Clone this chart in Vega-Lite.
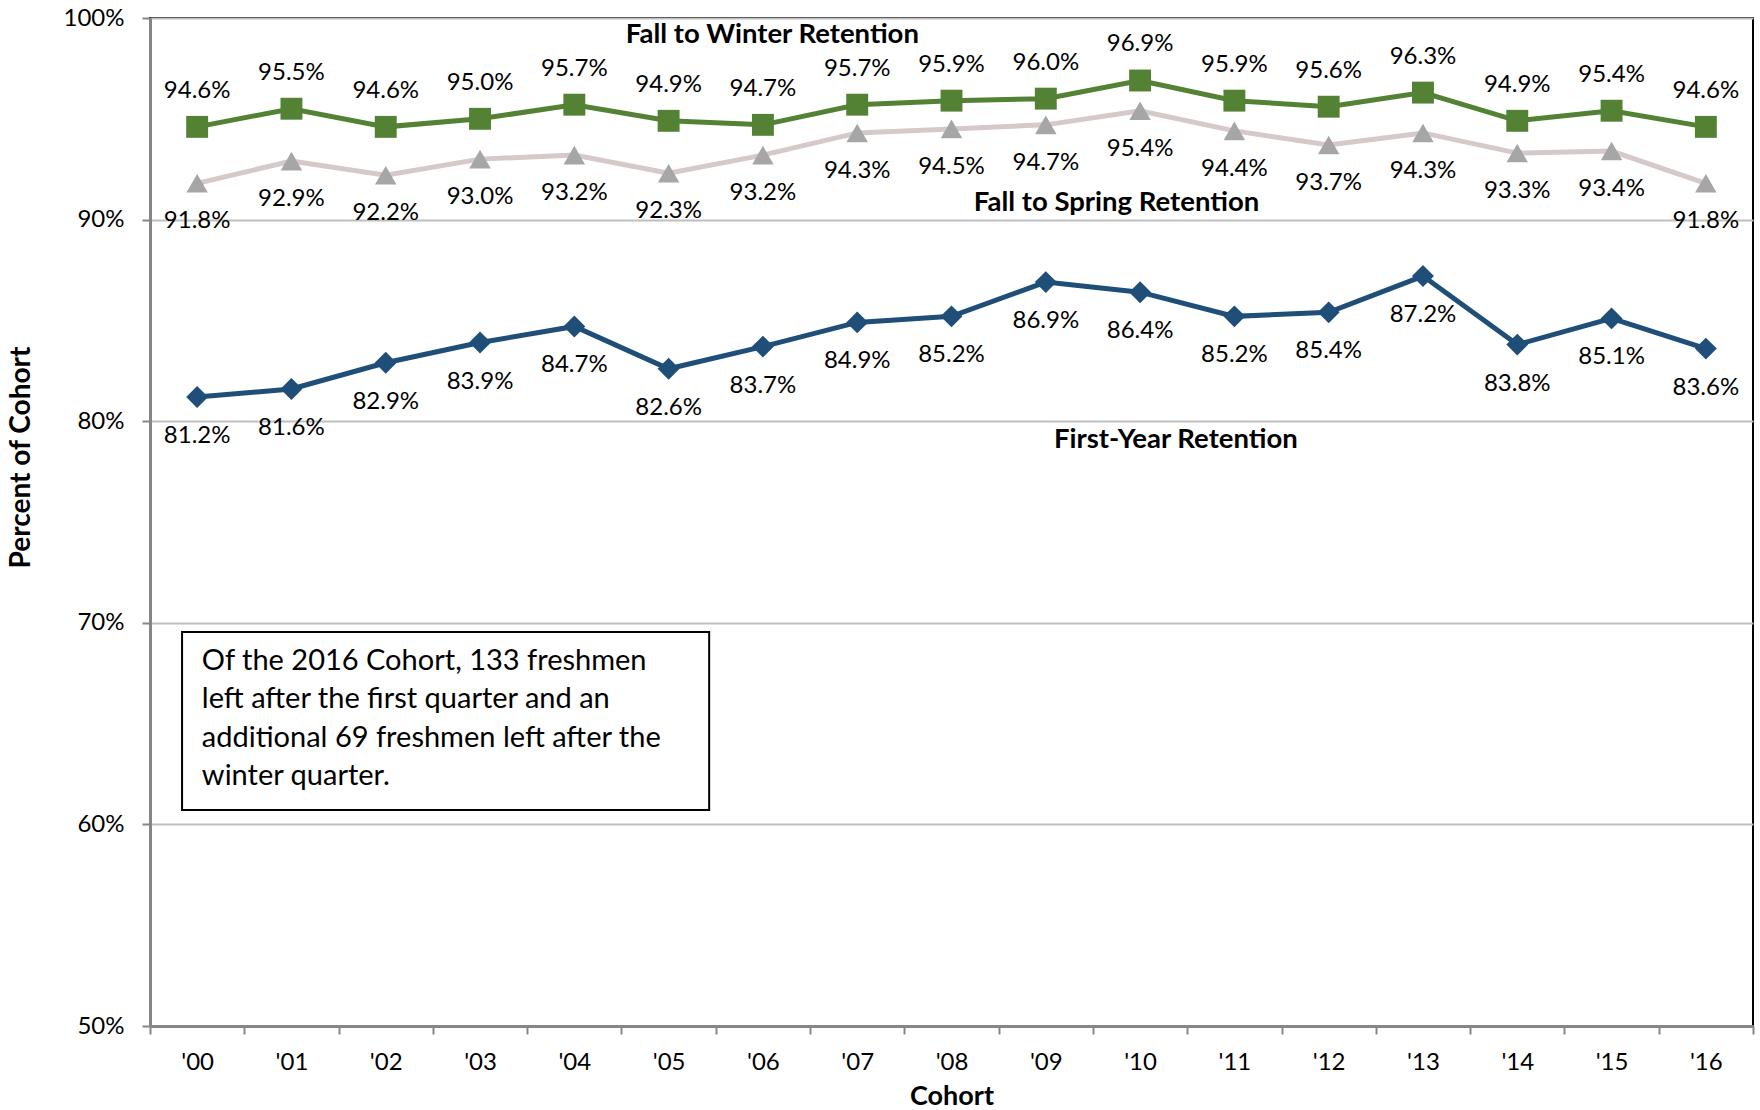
{
  "$schema": "https://vega.github.io/schema/vega-lite/v6.json",
  "width": 1603,
  "height": 1008,
  "autosize": "none",
  "padding": {"left": 150, "top": 18, "right": 7, "bottom": 84},
  "background": "white",
  "config": {
    "font": "Lato",
    "view": {"stroke": "#000000", "strokeWidth": 2},
    "axis": {"labelFont": "Lato", "titleFont": "Lato", "labelColor": "#000000", "titleColor": "#000000"}
  },
  "datasets": {
    "main": [
      {"cohort": "'00", "winter": 0.946, "spring": 0.918, "first": 0.812},
      {"cohort": "'01", "winter": 0.955, "spring": 0.929, "first": 0.816},
      {"cohort": "'02", "winter": 0.946, "spring": 0.922, "first": 0.829},
      {"cohort": "'03", "winter": 0.950, "spring": 0.930, "first": 0.839},
      {"cohort": "'04", "winter": 0.957, "spring": 0.932, "first": 0.847},
      {"cohort": "'05", "winter": 0.949, "spring": 0.923, "first": 0.826},
      {"cohort": "'06", "winter": 0.947, "spring": 0.932, "first": 0.837},
      {"cohort": "'07", "winter": 0.957, "spring": 0.943, "first": 0.849},
      {"cohort": "'08", "winter": 0.959, "spring": 0.945, "first": 0.852},
      {"cohort": "'09", "winter": 0.960, "spring": 0.947, "first": 0.869},
      {"cohort": "'10", "winter": 0.969, "spring": 0.954, "first": 0.864},
      {"cohort": "'11", "winter": 0.959, "spring": 0.944, "first": 0.852},
      {"cohort": "'12", "winter": 0.956, "spring": 0.937, "first": 0.854},
      {"cohort": "'13", "winter": 0.963, "spring": 0.943, "first": 0.872},
      {"cohort": "'14", "winter": 0.949, "spring": 0.933, "first": 0.838},
      {"cohort": "'15", "winter": 0.954, "spring": 0.934, "first": 0.851},
      {"cohort": "'16", "winter": 0.946, "spring": 0.918, "first": 0.836}
    ],
    "names": [
      {"pos": 6.6, "y": 0.9916, "name": "Fall to Winter Retention"},
      {"pos": 10.25, "y": 0.9082, "name": "Fall to Spring Retention"},
      {"pos": 10.88, "y": 0.7907, "name": "First-Year Retention"}
    ],
    "note": [
      {"x1": 0.34, "x2": 5.93, "y1": 0.6071, "y2": 0.6954, "tx": 0.55, "ty": 0.6811,
       "text": "Of the 2016 Cohort, 133 freshmen\nleft after the first quarter and an\nadditional 69 freshmen left after the\nwinter quarter."}
    ]
  },
  "resolve": {"scale": {"x": "independent"}},
  "layer": [
    {
      "data": {"name": "main"},
      "encoding": {
        "x": {
          "field": "cohort", "type": "ordinal", "sort": null,
          "scale": {"paddingInner": 0, "paddingOuter": 0},
          "axis": {
            "title": "Cohort", "titleFontSize": 27, "titleFontWeight": "bold", "titlePadding": 9,
            "labelAngle": 0, "labelFontSize": 24, "labelPadding": 16,
            "tickBand": "extent", "tickSize": 8, "tickColor": "#868686", "tickWidth": 2,
            "domainColor": "#868686", "domainWidth": 3, "grid": false
          }
        },
        "y": {
          "type": "quantitative",
          "scale": {"domain": [0.5, 1]},
          "axis": {
            "title": "Percent of Cohort", "titleFontSize": 28, "titleFontWeight": "bold", "titlePadding": 28,
            "titleY": 439,
            "format": ".0%", "values": [0.5, 0.6, 0.7, 0.8, 0.9, 1.0],
            "labelFontSize": 24, "labelPadding": 18,
            "tickSize": 8, "tickColor": "#868686", "tickWidth": 2,
            "domainColor": "#868686", "domainWidth": 3,
            "grid": true, "gridColor": "#BFBFBF", "gridWidth": 2
          }
        }
      },
      "layer": [
        {
          "mark": {"type": "line", "color": "#D5C9C9", "strokeWidth": 5,
                   "point": {"shape": "triangle-up", "size": 460, "filled": true, "color": "#A6A6A6", "opacity": 1}},
          "encoding": {"y": {"field": "spring", "type": "quantitative"}}
        },
        {
          "mark": {"type": "line", "color": "#548235", "strokeWidth": 5,
                   "point": {"shape": "square", "size": 480, "filled": true, "color": "#548235", "opacity": 1}},
          "encoding": {"y": {"field": "winter", "type": "quantitative"}}
        },
        {
          "mark": {"type": "line", "color": "#1F4E79", "strokeWidth": 5,
                   "point": {"shape": "diamond", "size": 480, "filled": true, "color": "#1F4E79", "opacity": 1}},
          "encoding": {"y": {"field": "first", "type": "quantitative"}}
        },
        {
          "mark": {"type": "text", "fontSize": 24, "dy": -36, "color": "#000000"},
          "encoding": {"y": {"field": "winter", "type": "quantitative"}, "text": {"field": "winter", "format": ".1%"}}
        },
        {
          "mark": {"type": "text", "fontSize": 24, "dy": 38, "color": "#000000"},
          "encoding": {"y": {"field": "spring", "type": "quantitative"}, "text": {"field": "spring", "format": ".1%"}}
        },
        {
          "mark": {"type": "text", "fontSize": 24, "dy": 39, "color": "#000000"},
          "encoding": {"y": {"field": "first", "type": "quantitative"}, "text": {"field": "first", "format": ".1%"}}
        }
      ]
    },
    {
      "data": {"name": "names"},
      "mark": {"type": "text", "fontSize": 27.5, "fontWeight": "bold", "color": "#000000", "baseline": "middle"},
      "encoding": {
        "x": {"field": "pos", "type": "quantitative", "scale": {"domain": [0, 17], "nice": false, "zero": false}, "axis": null},
        "y": {"field": "y", "type": "quantitative", "scale": {"domain": [0.5, 1]}},
        "text": {"field": "name"}
      }
    },
    {
      "data": {"name": "note"},
      "mark": {"type": "rect", "fill": "white", "stroke": "#000000", "strokeWidth": 2},
      "encoding": {
        "x": {"field": "x1", "type": "quantitative", "scale": {"domain": [0, 17], "nice": false, "zero": false}, "axis": null},
        "x2": {"field": "x2"},
        "y": {"field": "y1", "type": "quantitative"},
        "y2": {"field": "y2"}
      }
    },
    {
      "data": {"name": "note"},
      "mark": {"type": "text", "fontSize": 29, "align": "left", "baseline": "middle", "lineBreak": "\n", "lineHeight": 38.5, "color": "#000000"},
      "encoding": {
        "x": {"field": "tx", "type": "quantitative", "scale": {"domain": [0, 17], "nice": false, "zero": false}, "axis": null},
        "y": {"field": "ty", "type": "quantitative"},
        "text": {"field": "text"}
      }
    }
  ]
}
